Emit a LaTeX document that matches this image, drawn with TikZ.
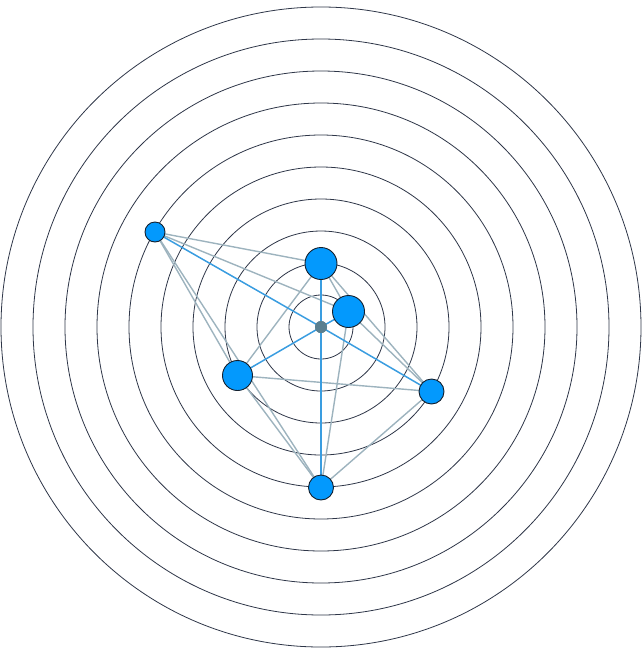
\documentclass[tikz,border=0pt]{standalone}
\usetikzlibrary{backgrounds}
\definecolor{ringc}{HTML}{2E3648}
\definecolor{nodefill}{HTML}{0399FD}
\definecolor{nodeline}{HTML}{14202E}
\definecolor{blueedge}{HTML}{3A9DE0}
\definecolor{grayedge}{HTML}{9DB3BE}
\definecolor{hubc}{HTML}{5A7F90}
\tikzset{
  ring/.style={draw=ringc, line width=0.8pt},
  bignode/.style={circle, draw=nodeline, fill=nodefill, line width=0.9pt, inner sep=0pt},
  hub/.style={circle, fill=hubc, inner sep=0pt, minimum size=12pt},
  spoke/.style={draw=blueedge, line width=1.5pt},
  link/.style={draw=grayedge, line width=1.4pt}
}
\begin{document}
\begin{tikzpicture}[x=1pt,y=-1pt]
\useasboundingbox (0,0) rectangle (642,649);
\node[hub] (O) at (321,327) {};
\node[bignode, minimum size=20pt] (A) at (155,232) {};
\node[bignode, minimum size=32pt] (B) at (321,263.5) {};
\node[bignode, minimum size=32pt] (C) at (348.5,311.5) {};
\node[bignode, minimum size=30pt] (D) at (237.5,375.5) {};
\node[bignode, minimum size=25pt] (E) at (431.5,391.5) {};
\node[bignode, minimum size=25pt] (F) at (321,487.5) {};
\begin{scope}[on background layer]
  \foreach \r in {32,64,...,320} { \draw[ring] (O.center) circle[radius=\r]; }
  \foreach \a/\b in {A/B,A/C,A/D,A/F,B/C,B/D,B/E,C/E,C/F,D/E,D/F,E/F}
    { \draw[link] (\a.center) -- (\b.center); }
  \foreach \b in {A,B,C,D,E,F}
    { \draw[spoke] (O.center) -- (\b.center); }
  \fill[hubc] (O.center) circle[radius=6];
\end{scope}
\end{tikzpicture}
\end{document}
